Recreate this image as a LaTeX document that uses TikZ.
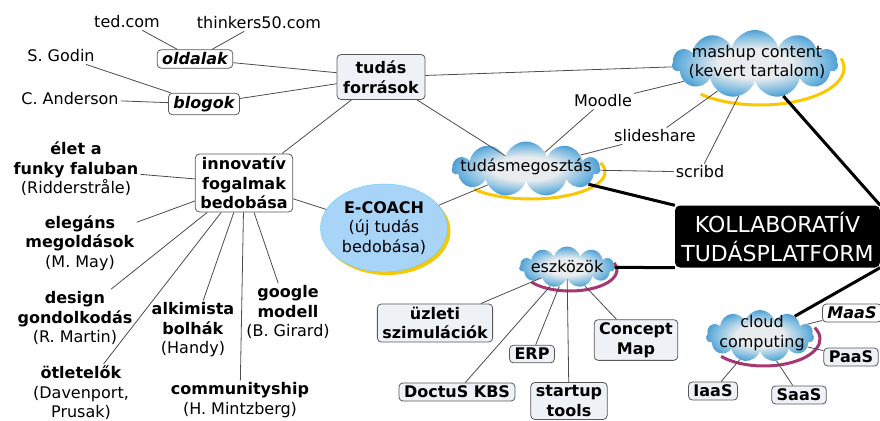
\documentclass[tikz,border=0pt]{standalone}
\usepackage{fontspec}
\setmainfont{DejaVu Sans}
\usetikzlibrary{shapes.symbols,shapes.geometric,positioning,calc}

\definecolor{boxfill}{RGB}{238,242,247}
\definecolor{cloudlight}{RGB}{232,236,238}
\definecolor{cloudmid}{RGB}{110,180,222}
\definecolor{cloudblue}{RGB}{22,110,180}
\definecolor{shyellow}{RGB}{250,200,0}
\definecolor{shmagenta}{RGB}{165,55,115}
\definecolor{coachblue}{RGB}{168,212,248}

\pgfdeclareradialshading{cloudfill}{\pgfpoint{0bp}{0bp}}{color(0bp)=(cloudlight); color(11bp)=(cloudlight); color(22bp)=(cloudmid); color(31bp)=(cloudblue); color(50bp)=(cloudblue)}

\newcommand\mapfont{\fontsize{16}{19.5}\selectfont}

\tikzstyle{box}=[draw=black!65, rounded corners=4pt, fill=boxfill, font=\mapfont\bfseries, align=center, inner xsep=5pt, inner ysep=3pt, line width=0.8pt]
\tikzstyle{whitebox}=[box, fill=white]
\tikzstyle{slanted}=[font=\mapfont\bfseries\itshape]
\tikzstyle{leaf}=[align=center, inner sep=2pt]
\tikzstyle{cloudbg}=[cloud, cloud puffs=11, cloud ignores aspect, inner sep=0pt, shading=cloudfill]
\tikzstyle{link}=[draw=black!70, line width=0.8pt]
\tikzstyle{mainlink}=[draw=black, line width=3pt]

\begin{document}
\begin{tikzpicture}[x=1pt, y=-1pt, font=\mapfont]
  \useasboundingbox (0,0) rectangle (880,420);

  % shadows behind the clouds and the ellipse
  \draw[shyellow, line width=3pt] (760,68) ++(-15:84 and 37) arc[start angle=-15, end angle=135, x radius=84, y radius=37];
  \draw[shyellow, line width=3pt] (531,172) ++(-20:74 and 27) arc[start angle=-20, end angle=140, x radius=74, y radius=27];
  \draw[shmagenta, line width=3pt] (570,270) ++(-20:47 and 21) arc[start angle=-20, end angle=145, x radius=47, y radius=21];
  \draw[shmagenta, line width=3pt] (764,339) ++(-25:56 and 27) arc[start angle=-25, end angle=140, x radius=56, y radius=27];
  \fill[shyellow] (387,231) ellipse [x radius=63.5, y radius=44];

  % clouds
  \node[cloudbg, minimum width=166, minimum height=68] (mashup) at (755,64) {};
  \node[align=center] (mashup-t) at (757,62) {mashup content\\(kevert tartalom)};
  \node[cloudbg, minimum width=148, minimum height=55] (tudasmeg) at (526,169) {};
  \node (tudasmeg-t) at (526,167) {tudásmegosztás};
  \node[cloudbg, minimum width=95, minimum height=41] (eszkozok) at (567,267) {};
  \node (eszkozok-t) at (567,267) {eszközök};
  \node[cloudbg, minimum width=108, minimum height=52] (cloudcomp) at (760,336) {};
  \node[align=center] (cloudcomp-t) at (762,333) {cloud\\computing};

  \node[ellipse, draw=cyan!60, fill=coachblue, minimum width=127, minimum height=88, align=center, inner sep=0pt] (ecoach) at (384,228) {\textbf{E-COACH}\\(új tudás\\bedobása)};

  \node[rounded corners=5pt, fill=black, text=white, minimum width=205, minimum height=62, align=center, font=\fontsize{22}{29}\selectfont] (koll) at (777.5,236.5) {KOLLABORATÍV\\TUDÁSPLATFORM};

  % boxes
  \node[box, minimum width=88, minimum height=45] (forrasok) at (381,77) {tudás\\források};
  \node[whitebox, slanted] (oldalak) at (195,59) {oldalak};
  \node[whitebox, slanted] (blogok) at (204,104) {blogok};
  \node[whitebox, minimum width=96] (innovativ) at (244,183) {innovatív\\fogalmak\\bedobása};

  \node[box] (uzleti) at (435,323) {üzleti\\szimulációk};
  \node[box] (erp) at (532,354) {ERP};
  \node[box] (doctus) at (457,392) {DoctuS KBS};
  \node[box] (startup) at (569,401) {startup\\tools};
  \node[box] (concept) at (636,340) {Concept\\Map};

  \node[whitebox, slanted] (maas) at (852,313) {MaaS};
  \node[box] (paas) at (851,357) {PaaS};
  \node[box] (saas) at (799,395) {SaaS};
  \node[box] (iaas) at (713,391) {IaaS};

  % plain labels
  \node[leaf] (ted) at (127,22) {ted.com};
  \node[leaf] (thinkers) at (259,23) {thinkers50.com};
  \node[leaf] (sgodin) at (61,56) {S. Godin};
  \node[leaf] (anderson) at (70,99) {C. Anderson};
  \node[leaf] (moodle) at (603,101) {Moodle};
  \node[leaf] (slideshare) at (655,136) {slideshare};
  \node[leaf] (scribd) at (700,172) {scribd};

  \node[leaf] (funky) at (76,169) {\textbf{élet a}\\\textbf{funky faluban}\\(Ridderstråle)};
  \node[leaf] (elegans) at (80,243) {\textbf{elegáns}\\\textbf{megoldások}\\(M. May)};
  \node[leaf] (design) at (75,318) {\textbf{design}\\\textbf{gondolkodás}\\(R. Martin)};
  \node[leaf] (otletelok) at (81,393) {\textbf{ötletelők}\\(Davenport,\\Prusak)};
  \node[leaf] (alkimista) at (193,330) {\textbf{alkimista}\\\textbf{bolhák}\\(Handy)};
  \node[leaf] (google) at (288,312) {\textbf{google}\\\textbf{modell}\\(B. Girard)};
  \node[leaf] (community) at (240,400) {\textbf{communityship}\\(H. Mintzberg)};

  % thin connectors
  \foreach \source/\dest in {oldalak/ted, oldalak/thinkers, oldalak/forrasok,
      blogok/sgodin, blogok/anderson, blogok/forrasok,
      forrasok/mashup, forrasok/tudasmeg, forrasok/innovativ,
      innovativ/ecoach, innovativ/funky, innovativ/elegans, innovativ/design,
      innovativ/otletelok, innovativ/alkimista, innovativ/community, innovativ/google,
      ecoach/tudasmeg,
      moodle/mashup, moodle/tudasmeg, slideshare/mashup, slideshare/tudasmeg,
      scribd/mashup, scribd/tudasmeg,
      eszkozok/uzleti, eszkozok/erp, eszkozok/doctus, eszkozok/startup, eszkozok/concept,
      cloudcomp/maas, cloudcomp/paas, cloudcomp/saas, cloudcomp/iaas}
    \draw[link] (\source) -- (\dest);

  % thick connectors to the centre
  \draw[mainlink] (tudasmeg) -- (koll.north west);
  \draw[mainlink] (mashup) -- (koll.north east);
  \draw[mainlink] (eszkozok) -- (koll.south west);
  \draw[mainlink] (cloudcomp) -- (koll.south east);
\end{tikzpicture}
\end{document}
